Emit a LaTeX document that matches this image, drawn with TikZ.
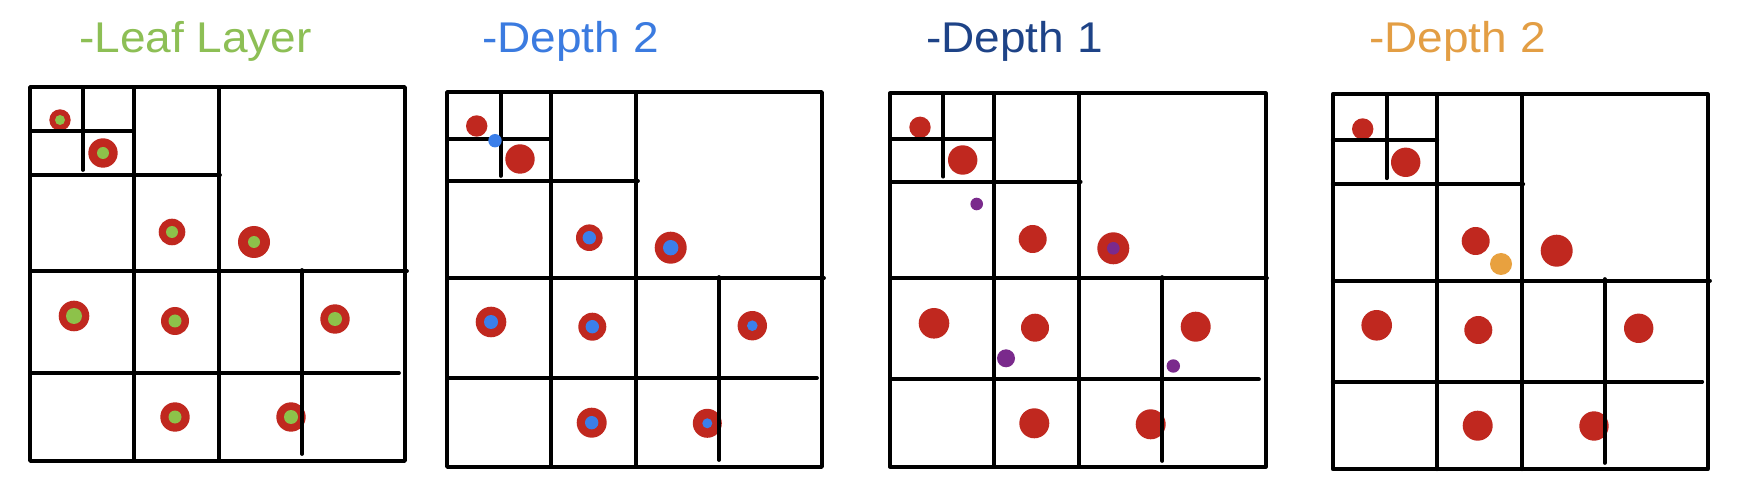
\documentclass[tikz,border=0pt]{standalone}
\usepackage{fontspec}
\setmainfont{Liberation Sans}
\definecolor{dotred}{HTML}{C0281F}
\definecolor{dotgreen}{HTML}{8DC24A}
\definecolor{dotblue}{HTML}{3B7FEA}
\definecolor{dotpurple}{HTML}{7A2A8C}
\definecolor{dotorange}{HTML}{E8A13F}
\definecolor{tgreen}{HTML}{8DBF55}
\definecolor{tblue}{HTML}{3B7BE0}
\definecolor{tdark}{HTML}{1E4387}
\definecolor{torange}{HTML}{E39E44}
\newcommand{\wide}[1]{\scalebox{1.07}[1]{#1}}
\begin{document}
\begin{tikzpicture}[x=1pt,y=-1pt,
  gl/.style={line width=3.7pt,line cap=round,line join=round},
  ttl/.style={anchor=base west,inner sep=0pt,font=\fontsize{43}{43}\selectfont}]
\useasboundingbox (0,0) rectangle (1749,486);
\fill[white] (0,0) rectangle (1749,486);

% titles
\node[ttl,text=tgreen] (t1) at (79,53) {\wide{-Leaf Layer}};
\node[ttl,text=tblue] (t2) at (482,53) {\wide{-Depth 2}};
\node[ttl,text=tdark] (t3) at (926,53) {\wide{-Depth 1}};
\node[ttl,text=torange] (t4) at (1369,53) {\wide{-Depth 2}};

% ---------- panel 1 ----------
\foreach \x/\y/\r in {60/120/10.7, 103/153/14.7, 172/232/13.3, 254/242/16, 74/316/15.3,
  175/321/14, 335/319/14.7, 175/417/14.7, 291/417/14.7}
  \fill[dotred] (\x,\y) circle (\r pt);
\draw[gl] (30,87) rectangle (405,461);
\draw[gl] (83,87) -- (83,170);
\draw[gl] (134,87) -- (134,461);
\draw[gl] (219,87) -- (219,461);
\draw[gl] (302,270) -- (302,454);
\draw[gl] (30,131) -- (134,131);
\draw[gl] (30,175) -- (220,175);
\draw[gl] (30,271) -- (407,271);
\draw[gl] (30,373) -- (399,373);
\foreach \x/\y/\r in {60/120/5, 103/153/6, 172/232/6, 254/242/6, 74/316/8,
  175/321/6.5, 335/319/7, 175/417/6.5, 291/417/7}
  \fill[dotgreen] (\x,\y) circle (\r pt);

% ---------- panel 2 ----------
\foreach \x/\y/\r in {476.7/126/10.7, 520/159/14.7, 589.3/237.7/13.3, 670.7/247.7/16,
  491/322/15.3, 592.3/326.7/14, 752.3/325.7/14.7, 591.7/422.7/15, 707.3/423.3/14.5}
  \fill[dotred] (\x,\y) circle (\r pt);
\draw[gl] (447,92) rectangle (822,467);
\draw[gl] (500.7,92) -- (500.7,176);
\draw[gl] (550.7,92) -- (550.7,467);
\draw[gl] (635.7,92) -- (635.7,467);
\draw[gl] (719,277) -- (719,460);
\draw[gl] (447,139) -- (550.7,139);
\draw[gl] (447,181) -- (638,181);
\draw[gl] (447,278) -- (824,278);
\draw[gl] (447,378) -- (817,378);
\foreach \x/\y/\r in {495/140.7/6.7, 589.3/237.7/6.7, 670.7/247.7/7.7,
  491/322/7, 592.3/326.7/6.7, 752.3/325.7/5.3, 591.7/422.7/6.7, 707.3/423.3/5}
  \fill[dotblue] (\x,\y) circle (\r pt);

% ---------- panel 3 ----------
\foreach \x/\y/\r in {920/127.3/10.7, 962.7/160/14.7, 1032.7/239/14, 1113.3/248.3/16,
  934/323.3/15.3, 1035/327.7/14, 1195.7/326.7/15, 1034.3/423.3/15, 1150.7/424.3/15}
  \fill[dotred] (\x,\y) circle (\r pt);
\draw[gl] (890,93.3) rectangle (1265.7,466.7);
\draw[gl] (943.3,93.3) -- (943.3,176.7);
\draw[gl] (994,93.3) -- (994,466.7);
\draw[gl] (1079,93.3) -- (1079,466.7);
\draw[gl] (1162.3,277) -- (1162.3,461);
\draw[gl] (890,139) -- (994,139);
\draw[gl] (890,181.7) -- (1080.7,181.7);
\draw[gl] (890,278.3) -- (1267,278.3);
\draw[gl] (890,379.3) -- (1259,379.3);
\foreach \x/\y/\r in {976.7/204/6.3, 1113.3/248.3/6.3, 1006/358.3/9, 1173.3/366/6.7}
  \fill[dotpurple] (\x,\y) circle (\r pt);

% ---------- panel 4 ----------
\foreach \x/\y/\r in {1362.7/129/10.7, 1405.7/162.3/14.7, 1475.7/241/14, 1556.7/250.7/16,
  1376.7/325.3/15.3, 1478.3/330/14, 1638.7/328.3/14.7, 1477.7/425.7/15, 1594/426/14.7}
  \fill[dotred] (\x,\y) circle (\r pt);
\draw[gl] (1332.7,94.3) rectangle (1707.7,469.3);
\draw[gl] (1386.7,94.3) -- (1386.7,178.3);
\draw[gl] (1437.3,94.3) -- (1437.3,469.3);
\draw[gl] (1522.3,94.3) -- (1522.3,469.3);
\draw[gl] (1604.7,279) -- (1604.7,463);
\draw[gl] (1332.7,140.3) -- (1437.3,140.3);
\draw[gl] (1332.7,184.3) -- (1523.3,184.3);
\draw[gl] (1332.7,280.7) -- (1710,280.7);
\draw[gl] (1332.7,381.7) -- (1702.3,381.7);
\fill[dotorange] (1501,264) circle (11pt);
\end{tikzpicture}
\end{document}
